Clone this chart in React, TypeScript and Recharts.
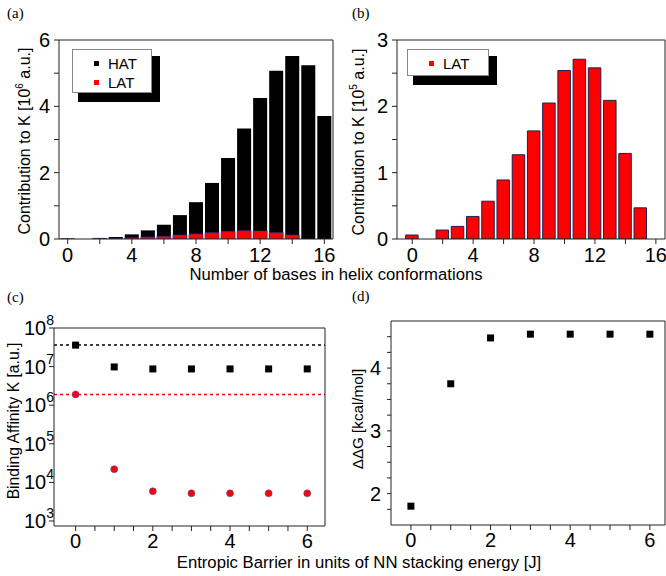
import React from "react";
import { ComposedChart, Bar, Scatter, XAxis, YAxis, ReferenceLine } from "recharts";

const W = 666;
const H = 576;
const SANS = "'Liberation Sans', Arial, sans-serif";
const SERIF = "'Liberation Serif', 'Times New Roman', serif";

// (a), (b): contribution to K per number of bases in helix conformations
const bases = [0, 1, 2, 3, 4, 5, 6, 7, 8, 9, 10, 11, 12, 13, 14, 15, 16];
const hatA = [0.01, null, 0.03, 0.06, 0.14, 0.26, 0.43, 0.72, 1.11, 1.69, 2.44, 3.33, 4.25, 5.07, 5.52, 5.24, 3.71]; // 10^6 a.u.
const latA = [0.005, null, 0.02, 0.02, 0.035, 0.06, 0.08, 0.12, 0.15, 0.19, 0.23, 0.25, 0.24, 0.19, 0.12, null, null]; // 10^6 a.u.
const latB = [0.06, null, 0.135, 0.19, 0.34, 0.57, 0.89, 1.27, 1.63, 2.05, 2.54, 2.71, 2.58, 2.09, 1.29, 0.47, null]; // 10^5 a.u.

// (c), (d): vs entropic barrier
const barrier = [0, 1, 2, 3, 4, 5, 6];
const kHat = [3.6e7, 9.8e6, 8.7e6, 8.7e6, 8.7e6, 8.7e6, 8.7e6];
const kLat = [1.9e6, 2.2e4, 5.9e3, 5.2e3, 5.2e3, 5.2e3, 5.2e3];
const ddG = [1.8, 3.75, 4.48, 4.54, 4.54, 4.54, 4.54];

// tick positions
const xTicksAB = [0, 2, 4, 6, 8, 10, 12, 14, 16];
const xTopAB = bases;
const yTicksA = [0, 1, 2, 3, 4, 5, 6];
const yTicksB = [0, 0.5, 1, 1.5, 2, 2.5, 3];
const xTicksCD = [0, 0.5, 1, 1.5, 2, 2.5, 3, 3.5, 4, 4.5, 5, 5.5, 6];
const decades = [1e3, 1e4, 1e5, 1e6, 1e7, 1e8];
const yTicksD = [1.75, 2, 2.25, 2.5, 2.75, 3, 3.25, 3.5, 3.75, 4, 4.25, 4.5];

const logMinor: number[] = [];
decades.slice(0, 5).forEach((d) => {
  for (let m = 2; m <= 9; m++) logMinor.push(d * m);
});

const LOG_MIN = 741;

const line = { stroke: "#222", strokeWidth: 1 };
const tickFont = { fontSize: 20, fill: "#000", fontFamily: SANS };

const dataA = bases.map((n, i) => ({ n, hat: hatA[i], lat: latA[i] }));
const dataB = bases.map((n, i) => ({ n, lat: latB[i] }));
const cHat = barrier.map((j, i) => ({ j, k: kHat[i] }));
const cLat = barrier.map((j, i) => ({ j, k: kLat[i] }));
const dPts = barrier.map((j, i) => ({ j, k: ddG[i] }));

const every = (step: number) => (v: number) =>
  Math.abs(v / step - Math.round(v / step)) < 1e-6 ? String(v) : "";

const PowTick = (props: any) => {
  const { x, y, payload } = props;
  const e = Math.round(Math.log10(payload.value));
  return (
    <text x={x + 8} y={y} textAnchor="end" fontFamily={SANS} fill="#000">
      <tspan fontSize={20} dy={7}>10</tspan>
      <tspan fontSize={14} dy={-10}>{e}</tspan>
    </text>
  );
};

const Square = (props: any) => (
  <rect x={props.cx - 3.5} y={props.cy - 3.5} width={7} height={7} fill="#000" />
);
const Dot = (props: any) => (
  <circle cx={props.cx} cy={props.cy} r={3.5} fill="#ff0000" stroke="#5050c8" strokeWidth={0.6} />
);

const abs = (left: number, top: number): React.CSSProperties => ({ position: "absolute", left, top });

const YTitle = ({ x, y, size, children }: { x: number; y: number; size: number; children: React.ReactNode }) => (
  <div
    style={{
      position: "absolute", left: x, top: y, transform: "translate(-50%,-50%) rotate(-90deg)",
      whiteSpace: "nowrap", fontSize: size, fontFamily: SANS, lineHeight: 1,
    }}
  >
    {children}
  </div>
);

const Legend = ({ x, y, w, h, items }: { x: number; y: number; w: number; h: number; items: { name: string; color: string }[] }) => (
  <>
    <div style={{ ...abs(x + 6, y + 7), width: w + 2, height: h + 2, background: "#000" }} />
    <div style={{ ...abs(x, y), width: w, height: h, background: "#fff", border: "1px solid #888", boxSizing: "border-box" }}>
      {items.map((it, i) => (
        <div key={it.name} style={{ position: "absolute", left: 0, top: 5 + i * 19, height: 16, display: "flex", alignItems: "center" }}>
          <div style={{ width: 5, height: 5, background: it.color, marginLeft: 21 }} />
          <span style={{ marginLeft: 9, fontSize: 15, fontFamily: SANS }}>{it.name}</span>
        </div>
      ))}
    </div>
  </>
);

const PanelLabel = ({ x, y, text }: { x: number; y: number; text: string }) => (
  <div style={{ ...abs(x, y), fontSize: 15, fontFamily: SERIF, lineHeight: 1 }}>{text}</div>
);

export default function App() {
  return (
    <div style={{ position: "absolute", left: 0, top: 0, width: W, height: H, background: "#fff" }}>
      {/* (a) */}
      <div style={abs(0, 0)}>
        <ComposedChart width={W} height={H} data={dataA} margin={{ top: 40, left: 58, right: 333, bottom: 336 }}>
          <XAxis xAxisId="b" dataKey="n" type="number" domain={[-0.54, 16.54]} allowDataOverflow ticks={xTicksAB}
            interval={0} tickFormatter={every(4)} tickSize={5} tickMargin={4} height={1} axisLine={line} tickLine={line} tick={tickFont} />
          <XAxis xAxisId="o" dataKey="n" type="number" domain={[-0.54, 16.54]} allowDataOverflow hide />
          <XAxis xAxisId="t" orientation="top" mirror type="number" domain={[-0.54, 16.54]} allowDataOverflow ticks={xTopAB}
            interval={0} tick={false} tickSize={4} height={1} axisLine={line} tickLine={line} />
          <YAxis yAxisId="l" type="number" domain={[0, 6]} allowDataOverflow ticks={yTicksA} interval={0}
            tickFormatter={every(2)} tickSize={5} tickMargin={4} width={1} axisLine={line} tickLine={line} tick={tickFont} />
          <YAxis yAxisId="r" orientation="right" mirror type="number" domain={[0, 6]} allowDataOverflow ticks={yTicksA}
            interval={0} tick={false} tickSize={4} width={1} axisLine={line} tickLine={line} />
          <Bar xAxisId="b" yAxisId="l" dataKey="hat" fill="#000" barSize={14} isAnimationActive={false} />
          <Bar xAxisId="o" yAxisId="l" dataKey="lat" fill="#ff0000" stroke="#3030a0" strokeWidth={0.6} barSize={14} isAnimationActive={false} />
        </ComposedChart>
      </div>

      {/* (b) */}
      <div style={abs(0, 0)}>
        <ComposedChart width={W} height={H} data={dataB} margin={{ top: 40, left: 396, right: 1, bottom: 336 }}>
          <XAxis xAxisId="b" dataKey="n" type="number" domain={[-1, 16.6]} allowDataOverflow ticks={xTicksAB}
            interval={0} tickFormatter={every(4)} tickSize={5} tickMargin={4} height={1} axisLine={line} tickLine={line} tick={tickFont} />
          <XAxis xAxisId="t" orientation="top" mirror type="number" domain={[-1, 16.6]} allowDataOverflow ticks={xTopAB}
            interval={0} tick={false} tickSize={4} height={1} axisLine={line} tickLine={line} />
          <YAxis yAxisId="l" type="number" domain={[0, 3]} allowDataOverflow ticks={yTicksB} interval={0}
            tickFormatter={every(1)} tickSize={5} tickMargin={4} width={1} axisLine={line} tickLine={line} tick={tickFont} />
          <YAxis yAxisId="r" orientation="right" mirror type="number" domain={[0, 3]} allowDataOverflow ticks={yTicksB}
            interval={0} tick={false} tickSize={4} width={1} axisLine={line} tickLine={line} />
          <Bar xAxisId="b" yAxisId="l" dataKey="lat" fill="#ff0000" stroke="#202050" strokeWidth={1} barSize={12.5} isAnimationActive={false} />
        </ComposedChart>
      </div>

      {/* (c) */}
      <div style={abs(0, 0)}>
        <ComposedChart width={W} height={H} margin={{ top: 328, left: 52, right: 341, bottom: 49 }}>
          <XAxis xAxisId="b" dataKey="j" type="number" domain={[-0.56, 6.46]} allowDataOverflow ticks={xTicksCD}
            interval={0} tickFormatter={every(2)} tickSize={5} tickMargin={3} height={1} axisLine={line} tickLine={line} tick={tickFont} />
          <XAxis xAxisId="t" orientation="top" mirror type="number" domain={[-0.56, 6.46]} allowDataOverflow ticks={xTicksCD}
            interval={0} tick={false} tickSize={4} height={1} axisLine={line} tickLine={line} />
          <YAxis yAxisId="l" dataKey="k" type="number" scale="log" domain={[LOG_MIN, 1e8]} allowDataOverflow ticks={decades}
            interval={0} tick={<PowTick />} tickSize={5} tickMargin={3} width={1} axisLine={line} tickLine={line} />
          <YAxis yAxisId="m" type="number" scale="log" domain={[LOG_MIN, 1e8]} allowDataOverflow ticks={logMinor}
            interval={0} tick={false} tickSize={3} width={1} axisLine={false} tickLine={line} />
          <YAxis yAxisId="r" orientation="right" mirror type="number" scale="log" domain={[LOG_MIN, 1e8]} allowDataOverflow
            ticks={[...decades, ...logMinor]} interval={0} tick={false} tickSize={3} width={1} axisLine={line} tickLine={line} />
          <ReferenceLine xAxisId="b" yAxisId="l" y={kHat[0]} stroke="#000" strokeWidth={1.5} strokeDasharray="3 3" />
          <ReferenceLine xAxisId="b" yAxisId="l" y={kLat[0]} stroke="#ff0000" strokeWidth={1.5} strokeDasharray="3 3" />
          <Scatter xAxisId="b" yAxisId="l" data={cHat} shape={Square} isAnimationActive={false} />
          <Scatter xAxisId="b" yAxisId="l" data={cLat} shape={Dot} isAnimationActive={false} />
        </ComposedChart>
      </div>

      {/* (d) */}
      <div style={abs(0, 0)}>
        <ComposedChart width={W} height={H} margin={{ top: 321, left: 390, right: 1, bottom: 50 }}>
          <XAxis xAxisId="b" dataKey="j" type="number" domain={[-0.5, 6.38]} allowDataOverflow ticks={xTicksCD}
            interval={0} tickFormatter={every(2)} tickSize={5} tickMargin={3} height={1} axisLine={line} tickLine={line} tick={tickFont} />
          <XAxis xAxisId="t" orientation="top" mirror type="number" domain={[-0.5, 6.38]} allowDataOverflow ticks={xTicksCD}
            interval={0} tick={false} tickSize={4} height={1} axisLine={line} tickLine={line} />
          <YAxis yAxisId="l" dataKey="k" type="number" domain={[1.5, 4.75]} allowDataOverflow ticks={yTicksD} interval={0}
            tickFormatter={every(1)} tickSize={4} tickMargin={6} width={1} axisLine={line} tickLine={line} tick={tickFont} />
          <YAxis yAxisId="r" orientation="right" mirror type="number" domain={[1.5, 4.75]} allowDataOverflow ticks={yTicksD}
            interval={0} tick={false} tickSize={4} width={1} axisLine={line} tickLine={line} />
          <Scatter xAxisId="b" yAxisId="l" data={dPts} shape={Square} isAnimationActive={false} />
        </ComposedChart>
      </div>

      <Legend x={72} y={49} w={80} h={44} items={[{ name: "HAT", color: "#000" }, { name: "LAT", color: "#ff0000" }]} />
      <Legend x={407} y={49} w={82} h={27} items={[{ name: "LAT", color: "#ff0000" }]} />

      <YTitle x={24} y={141} size={16}>Contribution to K [10<sup style={{ fontSize: 10 }}>6</sup> a.u.]</YTitle>
      <YTitle x={358} y={142} size={16}>Contribution to K [10<sup style={{ fontSize: 10 }}>5</sup> a.u.]</YTitle>
      <YTitle x={14} y={421} size={15.7}>Binding Affinity K [a.u.]</YTitle>
      <YTitle x={358} y={419} size={15.2}>ΔΔG [kcal/mol]</YTitle>

      <div style={{ ...abs(0, 267), width: 672, textAlign: "center", fontSize: 16.7, fontFamily: SANS, lineHeight: 1 }}>
        Number of bases in helix conformations
      </div>
      <div style={{ ...abs(0, 555), width: 718, textAlign: "center", fontSize: 16.7, fontFamily: SANS, lineHeight: 1 }}>
        Entropic Barrier in units of NN stacking energy [J]
      </div>

      <PanelLabel x={7} y={6} text="(a)" />
      <PanelLabel x={352} y={6} text="(b)" />
      <PanelLabel x={7} y={290} text="(c)" />
      <PanelLabel x={352} y={289} text="(d)" />
    </div>
  );
}
